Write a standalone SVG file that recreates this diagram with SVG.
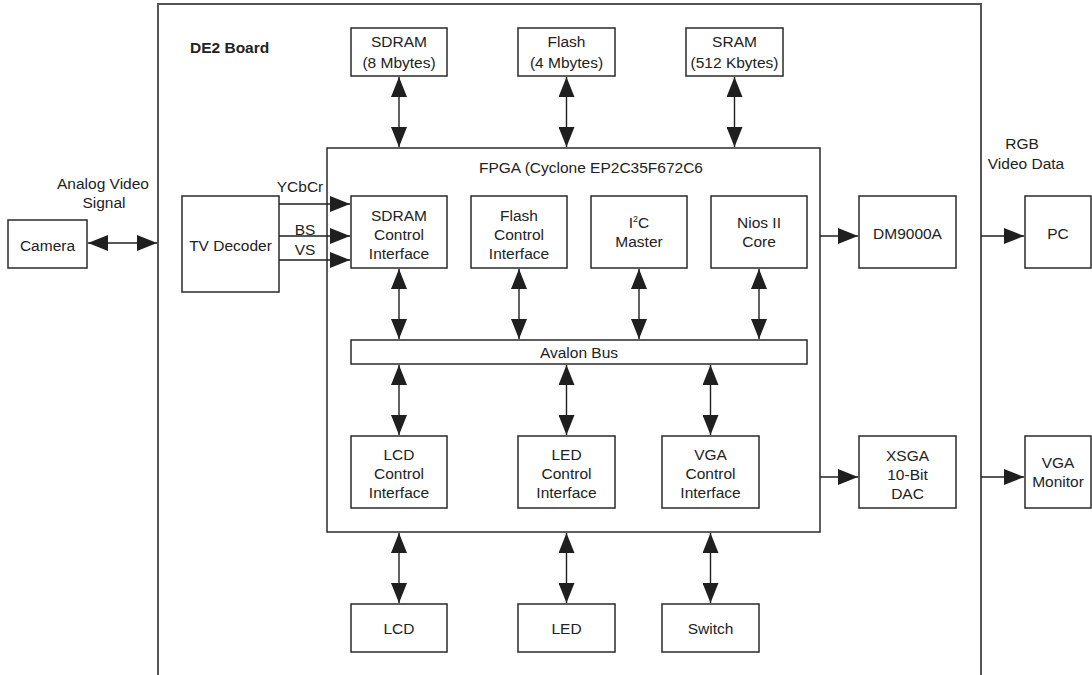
<svg xmlns="http://www.w3.org/2000/svg" width="1092" height="675" viewBox="0 0 1092 675">
<defs>
<marker id="ah" markerUnits="userSpaceOnUse" markerWidth="20" markerHeight="16" viewBox="0 0 20 16" refX="20" refY="8" orient="auto-start-reverse">
<path d="M0,0 L20,8 L0,16 Z" fill="#1f1f1f"/>
</marker>
<style>
.box{fill:#fff;stroke:#2a2a2a;stroke-width:1.5}
.t{font-family:"Liberation Sans",Arial,sans-serif;font-size:15.5px;fill:#222;text-anchor:middle}
.b{font-weight:bold;text-anchor:start}
.c{stroke:#1f1f1f;stroke-width:1.4;fill:none}
.bi{marker-start:url(#ah);marker-end:url(#ah)}
.uni{marker-end:url(#ah)}
</style>
</defs>
<rect width="1092" height="675" fill="#fff"/>
<g id="board">
<path d="M158,676 V4 H981 V676" fill="none" stroke="#555" stroke-width="2"/>
<text class="t b" x="190" y="52.5">DE2 Board</text>
</g>
<g id="fpga">
<rect class="box" x="327" y="148" width="493" height="384"/>
<text class="t" x="591" y="172.5">FPGA (Cyclone EP2C35F672C6</text>
</g>
<g id="camera"><rect class="box" x="8" y="220" width="79" height="48"/><text class="t" x="47.5" y="250.5">Camera</text></g>
<g id="analog-label"><text class="t" x="103" y="188.5">Analog Video</text><text class="t" x="104" y="207.5">Signal</text></g>
<g id="tv-decoder"><rect class="box" x="182" y="196" width="97" height="96"/><text class="t" x="230.5" y="250.5">TV Decoder</text></g>
<g id="signal-labels"><text class="t" x="300" y="192">YCbCr</text><text class="t" x="305" y="235">BS</text><text class="t" x="305" y="255">VS</text></g>
<g id="sdram"><rect class="box" x="351" y="28" width="96" height="48"/><text class="t" x="399" y="47">SDRAM</text><text class="t" x="399" y="67.5">(8 Mbytes)</text></g>
<g id="flash"><rect class="box" x="518" y="28" width="97" height="48"/><text class="t" x="566.5" y="47">Flash</text><text class="t" x="566.5" y="67.5">(4 Mbytes)</text></g>
<g id="sram"><rect class="box" x="686" y="28" width="97" height="48"/><text class="t" x="734.5" y="47">SRAM</text><text class="t" x="734.5" y="67.5">(512 Kbytes)</text></g>
<g id="sdram-ctrl"><rect class="box" x="351" y="196" width="96" height="72"/><text class="t" x="399" y="220.5">SDRAM</text><text class="t" x="399" y="239.5">Control</text><text class="t" x="399" y="258.5">Interface</text></g>
<g id="flash-ctrl"><rect class="box" x="471" y="196" width="96" height="72"/><text class="t" x="519" y="220.5">Flash</text><text class="t" x="519" y="239.5">Control</text><text class="t" x="519" y="258.5">Interface</text></g>
<g id="i2c"><rect class="box" x="591" y="196" width="96" height="72"/><text class="t" x="639" y="228">I<tspan font-size="9" dy="-6">2</tspan><tspan dy="6">C</tspan></text><text class="t" x="639" y="247">Master</text></g>
<g id="nios"><rect class="box" x="711" y="196" width="96" height="72"/><text class="t" x="759" y="228">Nios II</text><text class="t" x="759" y="247">Core</text></g>
<g id="avalon"><rect class="box" x="351" y="340" width="456" height="24"/><text class="t" x="579" y="358">Avalon Bus</text></g>
<g id="lcd-ctrl"><rect class="box" x="351" y="436" width="96" height="72"/><text class="t" x="399" y="459.5">LCD</text><text class="t" x="399" y="479">Control</text><text class="t" x="399" y="497.5">Interface</text></g>
<g id="led-ctrl"><rect class="box" x="518" y="436" width="97" height="72"/><text class="t" x="566.5" y="459.5">LED</text><text class="t" x="566.5" y="479">Control</text><text class="t" x="566.5" y="497.5">Interface</text></g>
<g id="vga-ctrl"><rect class="box" x="662" y="436" width="97" height="72"/><text class="t" x="710.5" y="459.5">VGA</text><text class="t" x="710.5" y="479">Control</text><text class="t" x="710.5" y="497.5">Interface</text></g>
<g id="lcd"><rect class="box" x="351" y="604" width="96" height="48"/><text class="t" x="399" y="633.5">LCD</text></g>
<g id="led"><rect class="box" x="518" y="604" width="97" height="48"/><text class="t" x="566.5" y="633.5">LED</text></g>
<g id="switch"><rect class="box" x="662" y="604" width="97" height="48"/><text class="t" x="710.5" y="633.5">Switch</text></g>
<g id="dm9000a"><rect class="box" x="859" y="196" width="97" height="72"/><text class="t" x="907.5" y="239">DM9000A</text></g>
<g id="dac"><rect class="box" x="859" y="436" width="97" height="72"/><text class="t" x="907.5" y="460.5">XSGA</text><text class="t" x="907.5" y="479.5">10-Bit</text><text class="t" x="907.5" y="498.5">DAC</text></g>
<g id="rgb-label"><text class="t" x="1022" y="148.5">RGB</text><text class="t" x="1026" y="168.5">Video Data</text></g>
<g id="pc"><rect class="box" x="1025" y="196" width="66" height="72"/><text class="t" x="1058" y="239">PC</text></g>
<g id="vga-monitor"><rect class="box" x="1025" y="436" width="66" height="72"/><text class="t" x="1058" y="468">VGA</text><text class="t" x="1058" y="487">Monitor</text></g>
<g id="connectors">
<line class="c bi" x1="88" y1="243" x2="157" y2="243"/>
<line class="c uni" x1="279" y1="204" x2="350" y2="204"/>
<line class="c uni" x1="279" y1="236" x2="350" y2="236"/>
<line class="c uni" x1="279" y1="260" x2="350" y2="260"/>
<line class="c bi" x1="399" y1="77" x2="399" y2="147"/>
<line class="c bi" x1="566.5" y1="77" x2="566.5" y2="147"/>
<line class="c bi" x1="734.5" y1="77" x2="734.5" y2="147"/>
<line class="c bi" x1="399" y1="269" x2="399" y2="339"/>
<line class="c bi" x1="519" y1="269" x2="519" y2="339"/>
<line class="c bi" x1="639" y1="269" x2="639" y2="339"/>
<line class="c bi" x1="759" y1="269" x2="759" y2="339"/>
<line class="c bi" x1="399" y1="365" x2="399" y2="435"/>
<line class="c bi" x1="566.5" y1="365" x2="566.5" y2="435"/>
<line class="c bi" x1="710.5" y1="365" x2="710.5" y2="435"/>
<line class="c bi" x1="399" y1="533" x2="399" y2="603"/>
<line class="c bi" x1="566.5" y1="533" x2="566.5" y2="603"/>
<line class="c bi" x1="710.5" y1="533" x2="710.5" y2="603"/>
<line class="c uni" x1="820" y1="236" x2="858" y2="236"/>
<line class="c uni" x1="820" y1="477" x2="858" y2="477"/>
<line class="c uni" x1="981" y1="236" x2="1024" y2="236"/>
<line class="c uni" x1="981" y1="477" x2="1024" y2="477"/>
</g>
</svg>
